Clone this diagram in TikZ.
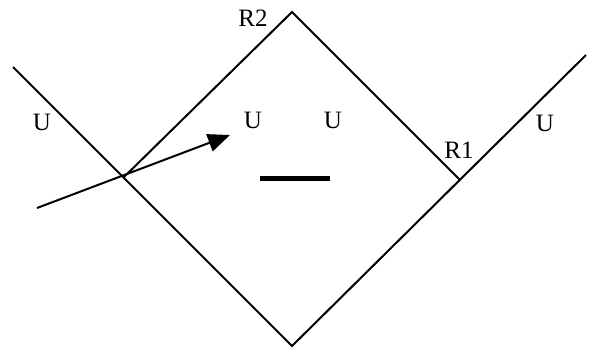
\documentclass[tikz,border=0pt]{standalone}
\usepackage{fontspec}
\setmainfont{Liberation Serif}
\usetikzlibrary{arrows.meta}
\begin{document}
\begin{tikzpicture}[x=1pt,y=-1pt,
  ln/.style={line width=2pt,line join=miter},
  lbl/.style={inner sep=0pt,font=\fontsize{25}{27}\selectfont}]
\useasboundingbox (0,0) rectangle (589,349);
\coordinate (A) at (13,67);
\coordinate (B) at (292,346);
\coordinate (C) at (586,55);
\coordinate (T) at (292,12);
\coordinate (X) at (124,177);
\coordinate (R) at (460,180);
\coordinate (S) at (37,208);
\coordinate (E) at (230,135);
\coordinate (P) at (260,178);
\coordinate (Q) at (330,178);
\draw[ln] (A) -- (B) -- (C);
\draw[ln] (X) -- (T) -- (R);
\draw[ln,-{Triangle[length=22pt,width=18pt]}] (S) -- (E);
\draw[line width=5pt] (P) -- (Q);
\node[lbl] (r2) at (253,18) {R2};
\node[lbl] (r1) at (459,150) {R1};
\node[lbl] (u1) at (42,122) {U};
\node[lbl] (u2) at (253,120) {U};
\node[lbl] (u3) at (333,120) {U};
\node[lbl] (u4) at (545,123) {U};
\end{tikzpicture}
\end{document}
